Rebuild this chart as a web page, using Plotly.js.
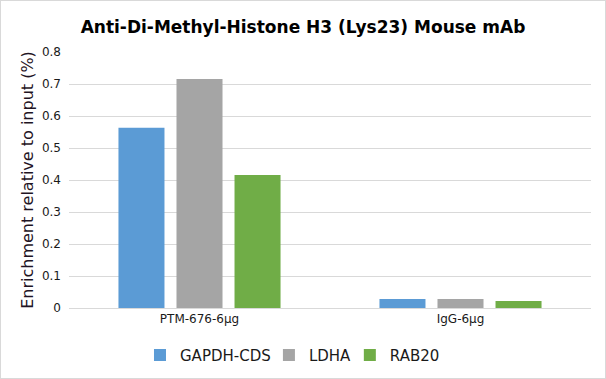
<!DOCTYPE html>
<html><head><meta charset="utf-8">
<script src="https://cdn.plot.ly/plotly-3.0.1.min.js"></script>
<style>html,body{margin:0;padding:0;background:#fff}#c{width:606px;height:379px;box-sizing:border-box;border:1px solid #d9d9d9}</style>
</head><body><div id="c"></div>
<script>
const categories = ["PTM-676-6μg", "IgG-6μg"];
const seriesNames = ["GAPDH-CDS", "LDHA", "RAB20"];
const gapdh = [0.563, 0.028];
const ldha = [0.716, 0.028];
const rab20 = [0.416, 0.022];
const colors = ["#5B9BD5", "#A5A5A5", "#70AD47"];
const values = [gapdh, ldha, rab20];
const legendIds = ["legend", "legend2", "legend3"];
const traces = values.map((v, i) => ({type: "bar", name: seriesNames[i], x: categories, y: v, marker: {color: colors[i]}, hoverinfo: "y", legend: legendIds[i]}));
const legendX = [0.136, 0.383, 0.538];
const legendStyle = (x) => ({orientation: "h", x: x, xanchor: "left", y: -0.185, yanchor: "middle", font: {size: 15, color: "#1a1a1a"}, itemwidth: 30, bgcolor: "rgba(0,0,0,0)"});
const layout = {
  width: 604, height: 377,
  margin: {l: 68, r: 14, t: 51, b: 70, autoexpand: false},
  paper_bgcolor: "#fff", plot_bgcolor: "#fff",
  font: {family: "DejaVu Sans, Verdana, sans-serif", color: "#595959"},
  title: {text: "<b>Anti-Di-Methyl-Histone H3 (Lys23) Mouse mAb</b>", x: 0.5, xanchor: "center", y: 0.93, yanchor: "middle", font: {size: 17, color: "#000"}},
  barmode: "group", bargap: 0.333, bargroupgap: 0.207,
  xaxis: {showgrid: false, showline: true, linecolor: "#d9d9d9", linewidth: 1, ticks: "", tickfont: {size: 12, color: "#1a1a1a"}, zeroline: false, automargin: false},
  yaxis: {range: [0, 0.8], dtick: 0.1, tickformat: ".1~f", gridcolor: "#d9d9d9", gridwidth: 1, zeroline: false, ticks: "", tickfont: {size: 12, color: "#1a1a1a"}, ticklabelstandoff: 7, automargin: false,
    title: {text: "Enrichment relative to input (%)", font: {size: 16, color: "#1f1424"}, standoff: 4}},
  legend: legendStyle(legendX[0]),
  legend2: legendStyle(legendX[1]),
  legend3: legendStyle(legendX[2]),
  showlegend: true
};
Plotly.newPlot("c", traces, layout, {displayModeBar: false, staticPlot: true});
</script></body></html>
